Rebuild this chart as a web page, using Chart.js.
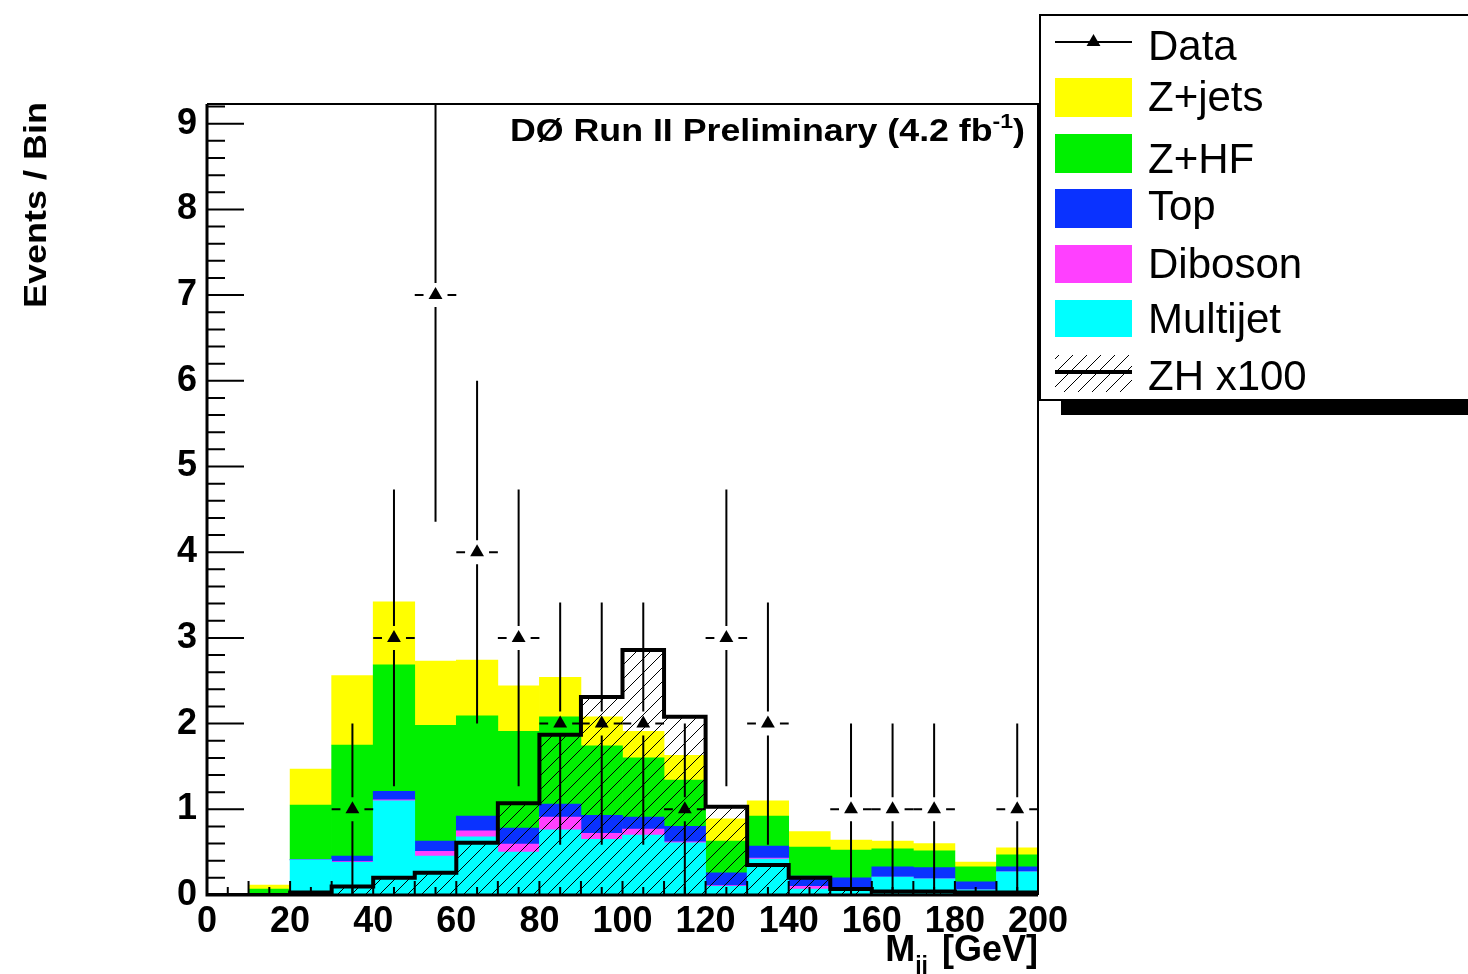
<!DOCTYPE html>
<html>
<head>
<meta charset="utf-8">
<script src="https://cdn.jsdelivr.net/npm/chart.js@4.4.0/dist/chart.umd.min.js"></script>
<style>
  html, body { margin: 0; padding: 0; background: #fff; }
</style>
</head>
<body>
<canvas id="mjjChart" width="1468" height="974"></canvas>
<script>
// M_jj histogram, 20 bins of 10 GeV
const binEdges   = [0, 10, 20, 30, 40, 50, 60, 70, 80, 90, 100, 110, 120, 130, 140, 150, 160, 170, 180, 190, 200];
const binCenters = [5, 15, 25, 35, 45, 55, 65, 75, 85, 95, 105, 115, 125, 135, 145, 155, 165, 175, 185, 195];

// background stack, bottom to top
const multijet = [0, 0, 0.41, 0.38, 1.10, 0.455, 0.68, 0.50, 0.76, 0.65, 0.70, 0.61, 0.10, 0.42, 0.07, 0.08, 0.21, 0.19, 0.06, 0.27];
const diboson  = [0, 0, 0, 0.01, 0.01, 0.055, 0.07, 0.095, 0.15, 0.07, 0.07, 0.01, 0.01, 0.01, 0.03, 0, 0, 0, 0, 0];
const topQuark = [0, 0, 0.005, 0.065, 0.10, 0.12, 0.17, 0.185, 0.15, 0.21, 0.14, 0.18, 0.15, 0.14, 0.12, 0.12, 0.12, 0.13, 0.095, 0.06];
const zhf      = [0, 0.07, 0.635, 1.295, 1.475, 1.35, 1.17, 1.13, 1.02, 0.81, 0.69, 0.54, 0.37, 0.35, 0.34, 0.325, 0.21, 0.195, 0.175, 0.14];
const zjets    = [0, 0.045, 0.42, 0.81, 0.735, 0.75, 0.65, 0.53, 0.46, 0.34, 0.31, 0.29, 0.26, 0.18, 0.18, 0.115, 0.09, 0.085, 0.055, 0.08];

// signal, scaled by 100
const zhX100 = [0, 0, 0.03, 0.10, 0.20, 0.26, 0.61, 1.07, 1.87, 2.31, 2.86, 2.08, 1.03, 0.35, 0.20, 0.07, 0.04, 0.04, 0.03, 0.03];

// observed events per bin
const dataCounts = [0, 0, 0, 1, 3, 7, 4, 3, 2, 2, 2, 1, 3, 2, 0, 1, 1, 1, 0, 1];

const yTicks = [0, 1, 2, 3, 4, 5, 6, 7, 8, 9];
const xTicks = [0, 20, 40, 60, 80, 100, 120, 140, 160, 180, 200];

const colMultijet = '#00ffff';
const colDiboson  = '#ff40ff';
const colTop      = '#0a32ff';
const colZhf      = '#00f000';
const colZjets    = '#ffff00';

const FONT = '"Liberation Sans", Arial, Helvetica, sans-serif';

function makeHatch() {
    const c = document.createElement('canvas');
    c.width = 14; c.height = 14;
    const g = c.getContext('2d');
    g.strokeStyle = '#000';
    g.lineWidth = 1;
    g.beginPath();
    g.moveTo(0, 14); g.lineTo(14, 0);
    g.moveTo(-2, 2); g.lineTo(2, -2);
    g.moveTo(12, 16); g.lineTo(16, 12);
    g.stroke();
    return g.createPattern(c, 'repeat');
}
const hatch = makeHatch();

const toPoints = vals => binCenters.map((x, i) => ({ x: x, y: vals[i] }));

function bkgSet(label, vals, color) {
    return {
        type: 'bar',
        label: label,
        data: toPoints(vals),
        backgroundColor: color,
        borderWidth: 0,
        stack: 'bkg',
        grouped: false,
        barPercentage: 1,
        categoryPercentage: 1
    };
}

// error bars, tick marks, frame, texts, legend
const decorPlugin = {
    id: 'decor',
    afterDatasetsDraw(chart) {
        const ctx = chart.ctx;
        const area = chart.chartArea;
        const xs = chart.scales.x, ys = chart.scales.y;
        ctx.save();
        ctx.beginPath();
        ctx.rect(area.left, area.top, area.right - area.left, area.bottom - area.top);
        ctx.clip();
        ctx.strokeStyle = '#000';
        ctx.lineWidth = 2;
        const gap = 12;
        dataCounts.forEach((n, i) => {
            if (n <= 0) return;
            const px = xs.getPixelForValue(binCenters[i]);
            const py = ys.getPixelForValue(n);
            const hi = ys.getPixelForValue(n + Math.sqrt(n));
            const lo = ys.getPixelForValue(n - Math.sqrt(n));
            const l = xs.getPixelForValue(binEdges[i]);
            const r = xs.getPixelForValue(binEdges[i + 1]);
            ctx.beginPath();
            ctx.moveTo(px, hi); ctx.lineTo(px, py - gap);
            ctx.moveTo(px, py + gap); ctx.lineTo(px, lo);
            ctx.moveTo(l, py); ctx.lineTo(px - gap, py);
            ctx.moveTo(px + gap, py); ctx.lineTo(r, py);
            ctx.stroke();
        });
        ctx.restore();
    },
    afterDraw(chart) {
        const ctx = chart.ctx;
        const area = chart.chartArea;
        const xs = chart.scales.x, ys = chart.scales.y;
        ctx.save();
        ctx.strokeStyle = '#000';

        // ticks inside the frame
        ctx.lineWidth = 2;
        ctx.beginPath();
        for (let k = 0; k <= 46; k++) {
            const y = ys.getPixelForValue(k * 0.2);
            if (y < area.top) break;
            const len = k % 5 === 0 ? 37 : 18;
            ctx.moveTo(area.left, y); ctx.lineTo(area.left + len, y);
        }
        for (let k = 0; k <= 40; k++) {
            const x = xs.getPixelForValue(k * 5);
            const len = k % 2 === 0 ? 14 : 8;
            ctx.moveTo(x, area.bottom); ctx.lineTo(x, area.bottom - len);
        }
        ctx.stroke();

        // frame
        ctx.lineWidth = 2;
        ctx.beginPath();
        ctx.moveTo(area.left, area.top); ctx.lineTo(area.right, area.top);
        ctx.lineTo(area.right, area.bottom);
        ctx.stroke();
        ctx.lineWidth = 3;
        ctx.beginPath();
        ctx.moveTo(area.left, area.top); ctx.lineTo(area.left, area.bottom);
        ctx.lineTo(area.right, area.bottom);
        ctx.stroke();

        ctx.fillStyle = '#000';

        // title inside the frame
        const t1 = 'D\u00d8 Run II Preliminary (4.2 fb';
        ctx.font = 'bold 31px ' + FONT;
        const w1 = ctx.measureText(t1).width;
        ctx.font = 'bold 20px ' + FONT;
        const w2 = ctx.measureText('-1').width;
        ctx.font = 'bold 31px ' + FONT;
        const w3 = ctx.measureText(')').width;
        const sx = 515 / (w1 + w2 + w3);
        ctx.save();
        ctx.translate(510, 141);
        ctx.scale(sx, 1);
        ctx.textBaseline = 'alphabetic';
        ctx.textAlign = 'left';
        ctx.fillText(t1, 0, 0);
        ctx.font = 'bold 20px ' + FONT;
        ctx.fillText('-1', w1, -13);
        ctx.font = 'bold 31px ' + FONT;
        ctx.fillText(')', w1 + w2, 0);
        ctx.restore();

        // y axis title
        ctx.save();
        ctx.font = 'bold 31px ' + FONT;
        const yw = ctx.measureText('Events / Bin').width;
        ctx.translate(46, 308);
        ctx.rotate(-Math.PI / 2);
        ctx.scale(206 / yw, 1);
        ctx.textAlign = 'left';
        ctx.textBaseline = 'alphabetic';
        ctx.fillText('Events / Bin', 0, 0);
        ctx.restore();

        // x axis title
        ctx.save();
        ctx.textBaseline = 'alphabetic';
        ctx.textAlign = 'left';
        ctx.font = 'bold 36px ' + FONT;
        const wm = ctx.measureText('M').width;
        const wg = ctx.measureText('[GeV]').width;
        ctx.font = 'bold 23px ' + FONT;
        const wj = ctx.measureText('jj').width;
        const space = 14;
        let x0 = area.right - (wm + wj + space + wg);
        ctx.font = 'bold 36px ' + FONT;
        ctx.fillText('M', x0, 961);
        ctx.font = 'bold 23px ' + FONT;
        ctx.fillText('jj', x0 + wm, 973);
        ctx.font = 'bold 36px ' + FONT;
        ctx.fillText('[GeV]', x0 + wm + wj + space, 961);
        ctx.restore();

        // legend
        const lx = 1055, lw = 77, tx = 1148;
        ctx.fillStyle = '#000';
        ctx.fillRect(1061, 401, 420, 14);
        ctx.fillStyle = '#fff';
        ctx.fillRect(1040, 15, 440, 385);
        ctx.lineWidth = 2;
        ctx.strokeRect(1040, 15, 440, 385);

        ctx.fillStyle = '#000';
        ctx.lineWidth = 2;
        ctx.beginPath();
        ctx.moveTo(lx, 42); ctx.lineTo(lx + lw, 42);
        ctx.stroke();
        const mx = lx + lw / 2, my = 42, r = 8;
        ctx.beginPath();
        ctx.moveTo(mx, my - r);
        ctx.lineTo(mx + r * 0.866, my + r / 2);
        ctx.lineTo(mx - r * 0.866, my + r / 2);
        ctx.closePath();
        ctx.fill();

        const boxes = [
            [colZjets, 78, 39],
            [colZhf, 134, 39],
            [colTop, 189, 39],
            [colDiboson, 245, 38],
            [colMultijet, 300, 37]
        ];
        boxes.forEach(b => {
            ctx.fillStyle = b[0];
            ctx.fillRect(lx, b[1], lw, b[2]);
        });
        ctx.fillStyle = hatch;
        ctx.fillRect(lx, 355, lw, 37);
        ctx.lineWidth = 4;
        ctx.beginPath();
        ctx.moveTo(lx, 372); ctx.lineTo(lx + lw, 372);
        ctx.stroke();

        ctx.fillStyle = '#000';
        ctx.font = '42px ' + FONT;
        ctx.textAlign = 'left';
        ctx.textBaseline = 'alphabetic';
        const entries = [['Data', 60], ['Z+jets', 111], ['Z+HF', 173], ['Top', 220], ['Diboson', 278], ['Multijet', 333], ['ZH x100', 390]];
        entries.forEach(e => ctx.fillText(e[0], tx, e[1]));

        ctx.restore();
    }
};

const chart = new Chart(document.getElementById('mjjChart'), {
    type: 'bar',
    data: {
        datasets: [
            {
                type: 'line',
                label: 'Data',
                stack: 'data',
                showLine: false,
                data: binCenters.map((x, i) => ({ x: x, y: dataCounts[i] > 0 ? dataCounts[i] : null })),
                pointStyle: 'triangle',
                pointRadius: 8,
                pointBackgroundColor: '#000',
                pointBorderWidth: 0
            },
            {
                type: 'line',
                label: 'ZH x100',
                stack: 'sig',
                data: binEdges.map((x, i) => ({ x: x, y: zhX100[Math.min(i, zhX100.length - 1)] })),
                stepped: 'before',
                borderColor: '#000',
                borderWidth: 4,
                borderJoinStyle: 'miter',
                pointRadius: 0,
                fill: 'origin',
                backgroundColor: hatch
            },
            bkgSet('Multijet', multijet, colMultijet),
            bkgSet('Diboson', diboson, colDiboson),
            bkgSet('Top', topQuark, colTop),
            bkgSet('Z+HF', zhf, colZhf),
            bkgSet('Z+jets', zjets, colZjets)
        ]
    },
    options: {
        responsive: false,
        animation: false,
        events: [],
        layout: { padding: { left: 0, right: 430, top: 104, bottom: 0 } },
        plugins: {
            legend: { display: false },
            title: { display: false },
            tooltip: { enabled: false }
        },
        scales: {
            x: {
                type: 'linear',
                min: 0,
                max: 200,
                offset: false,
                stacked: false,
                grid: { display: false, drawTicks: false },
                border: { display: false },
                afterBuildTicks: s => { s.ticks = xTicks.map(v => ({ value: v })); },
                afterFit: s => { s.height = 79; },
                ticks: {
                    autoSkip: false,
                    maxRotation: 0,
                    padding: 5,
                    color: '#000',
                    font: { family: FONT, size: 36, weight: 'bold' }
                }
            },
            y: {
                min: 0,
                max: 9.23,
                stacked: true,
                grid: { display: false, drawTicks: false },
                border: { display: false },
                afterBuildTicks: s => { s.ticks = yTicks.map(v => ({ value: v })); },
                afterFit: s => { s.width = 207; },
                ticks: {
                    padding: 10,
                    color: '#000',
                    font: { family: FONT, size: 36, weight: 'bold' }
                }
            }
        }
    },
    plugins: [decorPlugin]
});
</script>
</body>
</html>
